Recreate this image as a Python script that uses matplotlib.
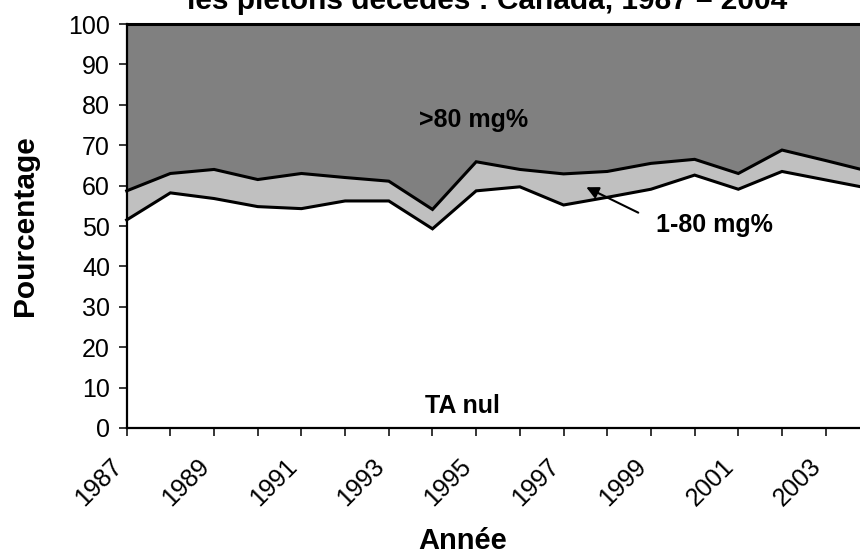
import numpy as np
import matplotlib
matplotlib.use("Agg")
import matplotlib.pyplot as plt
from matplotlib.transforms import ScaledTranslation

plt.rcParams['font.family'] = ['Liberation Sans', 'DejaVu Sans']

# data (percent of fatally injured pedestrians, by BAC group)
years = np.arange(1987, 2005)
ta_nul = [51.5, 58.2, 56.8, 54.8, 54.3, 56.2, 56.2, 49.3, 58.7,
          59.7, 55.2, 57.1, 59.1, 62.6, 59.1, 63.5, 61.4, 59.3]
low_bac = [7.2, 4.8, 7.2, 6.7, 8.7, 5.8, 4.9, 4.8, 7.2,
           4.3, 7.7, 6.4, 6.4, 3.9, 3.9, 5.3, 4.8, 4.2]
high_bac = [41.3, 37.0, 36.0, 38.5, 37.0, 38.0, 38.9, 45.9, 34.1,
            36.0, 37.1, 36.5, 34.5, 33.5, 37.0, 31.2, 33.8, 36.5]
tick_labels = [str(y) if y % 2 == 1 else "" for y in years]

fig = plt.figure(figsize=(8.6, 5.57), dpi=100)
# axes runs past the right edge like in the cropped original
ax = fig.add_axes([0.1473, 0.2316, 0.8636, 0.7253])

ax.stackplot(years, ta_nul, low_bac, high_bac,
             colors=["white", "#C0C0C0", "#808080"], linewidth=0)

cum = np.cumsum([ta_nul, low_bac, high_bac], axis=0)
for row in cum:
    ax.plot(years, row, color="black", lw=2.2, clip_on=False,
            solid_joinstyle="miter")

ax.set_xlim(1987, 2004)
ax.set_ylim(0, 100)
ax.set_yticks(range(0, 101, 10))
ax.set_xticks(years)
ax.set_xticklabels(tick_labels, rotation=45, ha="right")
for lab in ax.get_xticklabels():
    lab.set_transform(lab.get_transform() +
                      ScaledTranslation(-0.10, 0, fig.dpi_scale_trans))

ax.tick_params(axis="both", labelsize=18, direction="out",
               length=6, width=1.1, color="black")
ax.tick_params(axis="y", pad=6)
ax.tick_params(axis="x", pad=13)
for s in ["top", "right"]:
    ax.spines[s].set_visible(False)
for s in ["left", "bottom"]:
    ax.spines[s].set_linewidth(1.6)
    ax.spines[s].set_zorder(5)

ax.set_ylabel("Pourcentage", fontsize=21.5, fontweight="bold")
ax.yaxis.set_label_coords(-0.118, 0.5)
fig.text(0.538, 0.014, "Année", fontsize=21, fontweight="bold",
         ha="center", va="baseline")

fig.text(0.566, 0.983, "les piétons décédés : Canada, 1987 – 2004",
         fontsize=21.5, fontweight="bold", ha="center", va="baseline")

ax.text(1994.94, 76.2, ">80 mg%", fontsize=18, fontweight="bold",
        ha="center", va="center")
ax.text(1994.68, 5.5, "TA nul", fontsize=18, fontweight="bold",
        ha="center", va="center")
ax.text(2000.46, 50.2, "1-80 mg%", fontsize=18, fontweight="bold",
        ha="center", va="center")
ax.annotate("", xy=(1997.52, 59.6), xytext=(1998.71, 53.3),
            arrowprops=dict(arrowstyle="-|>", color="black", lw=1.5,
                            mutation_scale=18, shrinkA=0, shrinkB=0))

fig.savefig("out.png", dpi=100)
